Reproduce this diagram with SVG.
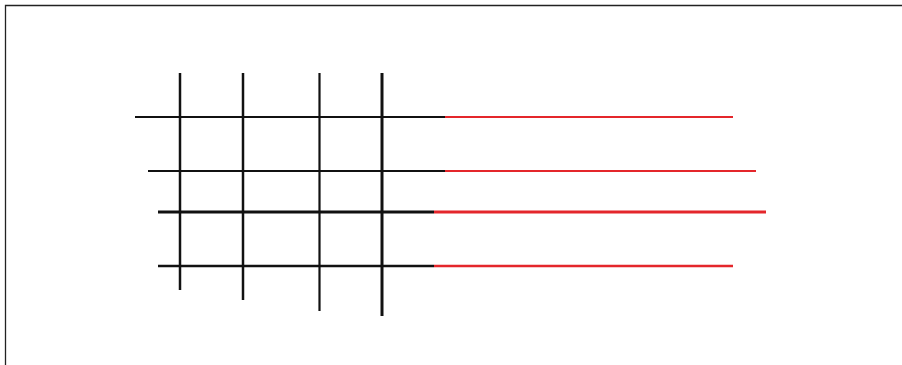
<svg xmlns="http://www.w3.org/2000/svg" width="902" height="365" viewBox="0 0 902 365">
<style>
.k{stroke:#111;fill:none;stroke-linecap:butt}
.r{stroke:#e4262b;fill:none}
.f{stroke:#222;stroke-width:1.3;fill:none}
</style>
<rect width="902" height="365" fill="#fff"/>
<g id="frame"><path class="f" d="M5.5,365 V5.5 H902"/></g>
<g id="connectors">
<line class="k" x1="135" y1="117" x2="445" y2="117" stroke-width="2"/>
<line class="r" x1="445" y1="117" x2="733" y2="117" stroke-width="2"/>
<line class="k" x1="148" y1="171" x2="445" y2="171" stroke-width="2"/>
<line class="r" x1="445" y1="171" x2="756" y2="171" stroke-width="2"/>
<line class="k" x1="158" y1="212" x2="434" y2="212" stroke-width="3"/>
<line class="r" x1="434" y1="212" x2="766" y2="212" stroke-width="3"/>
<line class="k" x1="158" y1="266" x2="434" y2="266" stroke-width="2.4"/>
<line class="r" x1="434" y1="266" x2="733" y2="266" stroke-width="2.4"/>
<line class="k" x1="180" y1="73" x2="180" y2="290" stroke-width="2.5"/>
<line class="k" x1="243" y1="73" x2="243" y2="300" stroke-width="2.5"/>
<line class="k" x1="319.5" y1="73" x2="319.5" y2="311" stroke-width="2.2"/>
<line class="k" x1="382" y1="73" x2="382" y2="316" stroke-width="3"/>
</g>
</svg>
